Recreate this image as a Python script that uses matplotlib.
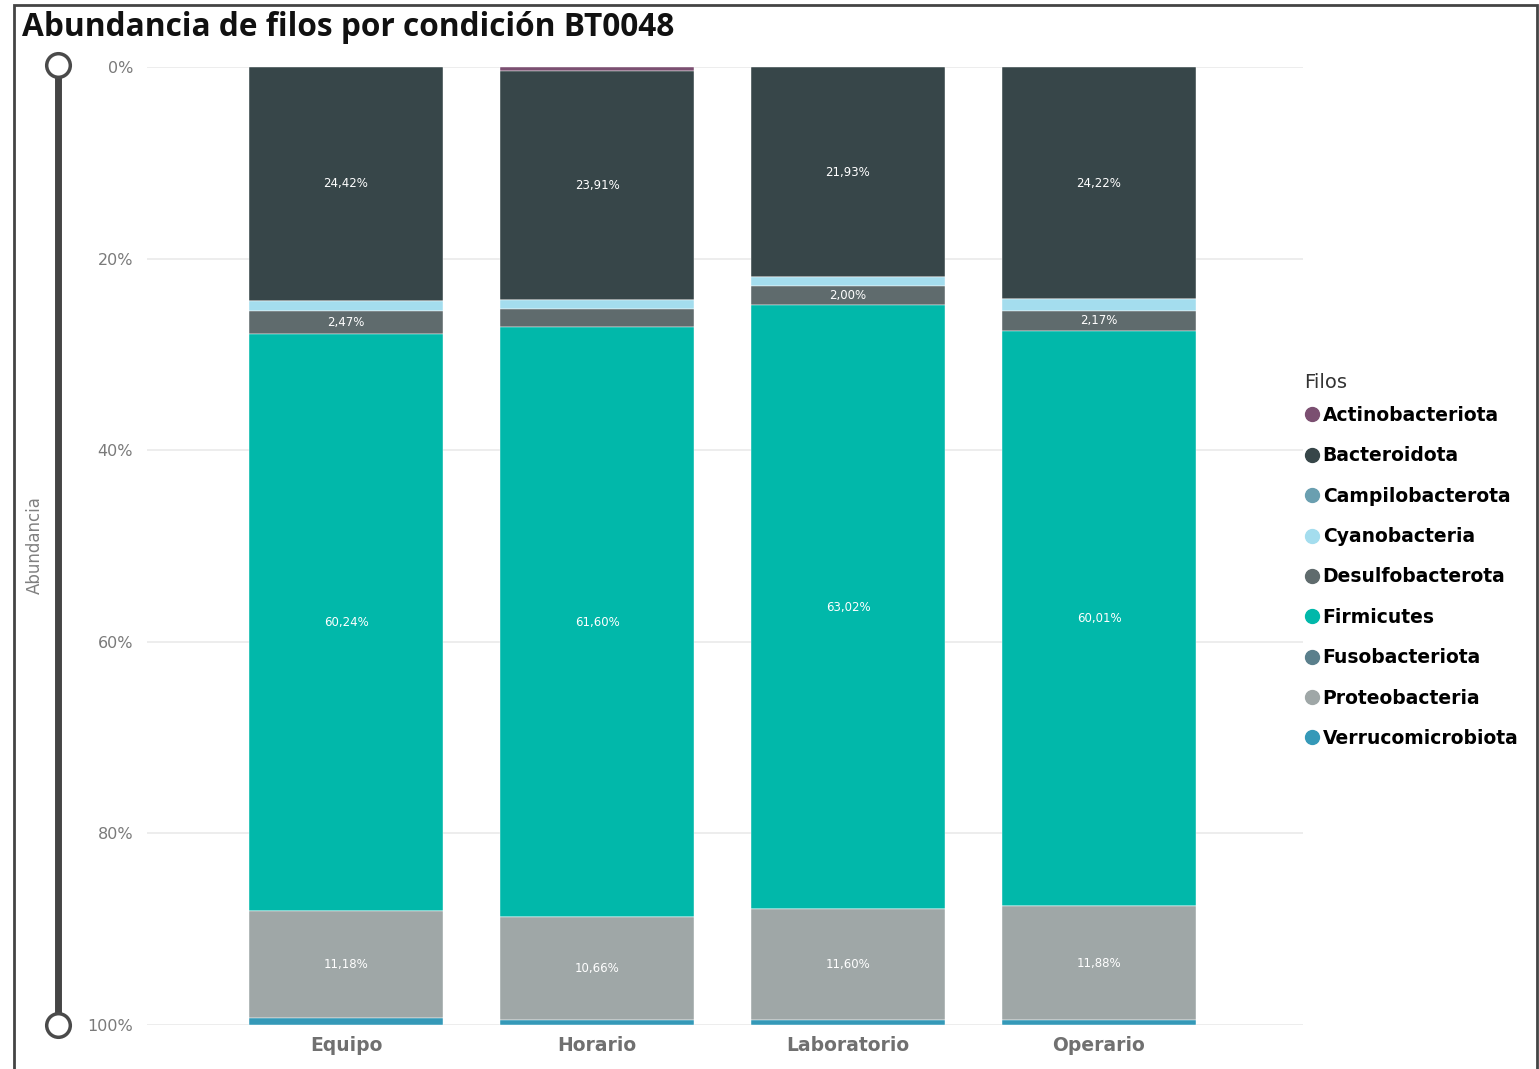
import matplotlib
matplotlib.use("Agg")
import matplotlib.pyplot as plt
from matplotlib.lines import Line2D
from matplotlib.patches import Rectangle

categories = ["Equipo", "Horario", "Laboratorio", "Operario"]
phyla = ["Actinobacteriota", "Bacteroidota", "Campilobacterota", "Cyanobacteria",
         "Desulfobacterota", "Firmicutes", "Fusobacteriota", "Proteobacteria",
         "Verrucomicrobiota"]
actinobacteriota = [0.00, 0.40, 0.00, 0.00]
bacteroidota = [24.42, 23.91, 21.93, 24.22]
campilobacterota = [0.00, 0.00, 0.00, 0.00]
cyanobacteria = [1.00, 1.00, 0.95, 1.20]
desulfobacterota = [2.47, 1.86, 2.00, 2.17]
firmicutes = [60.24, 61.60, 63.02, 60.01]
fusobacteriota = [0.00, 0.00, 0.00, 0.00]
proteobacteria = [11.18, 10.66, 11.60, 11.88]
verrucomicrobiota = [0.69, 0.57, 0.50, 0.52]

series = [actinobacteriota, bacteroidota, campilobacterota, cyanobacteria,
          desulfobacterota, firmicutes, fusobacteriota, proteobacteria,
          verrucomicrobiota]
colors = ["#7B4F71", "#374649", "#6A9FB0", "#A4DDEE", "#5F6B6D", "#01B8AA",
          "#5A7F8C", "#9FA7A7", "#3599B8"]

W, H = 1539, 1069
fig = plt.figure(figsize=(W / 100, H / 100), dpi=100)
ax = fig.add_axes([147 / W, 1 - 1025 / H, (1303 - 147) / W, (1025 - 67) / H])

x = list(range(len(categories)))
bottom = [0.0] * len(categories)
for name, vals, col in zip(phyla, series, colors):
    ax.bar(x, vals, bottom=bottom, width=0.77, color=col, edgecolor="white",
           linewidth=0.3, zorder=3)
    for i, v in enumerate(vals):
        if v >= 1.95:
            lbl = f"{v:.2f}%".replace(".", ",")
            ax.text(i, bottom[i] + v / 2, lbl, ha="center", va="center",
                    color="white", fontsize=8.5, zorder=4,
                    family=["Liberation Sans Narrow", "DejaVu Sans"])
    bottom = [b + v for b, v in zip(bottom, vals)]

ax.set_ylim(100, 0)
ax.set_xlim(-0.793, 3.813)
ax.set_yticks([0, 20, 40, 60, 80, 100])
ax.set_yticklabels(["0%", "20%", "40%", "60%", "80%", "100%"])
ax.set_xticks(x)
ax.set_xticklabels(categories)
for lab in ax.get_xticklabels():
    lab.set_fontweight("bold")
    lab.set_color("#707070")
    lab.set_fontsize(13.5)
for lab in ax.get_yticklabels():
    lab.set_color("#7a7a7a")
    lab.set_fontsize(11.5)
ax.tick_params(axis="both", length=0)
ax.tick_params(axis="y", pad=10)
ax.tick_params(axis="x", pad=8)
ax.grid(axis="y", color="#eaeaea", linewidth=1.2, zorder=0)
for s in ax.spines.values():
    s.set_visible(False)

# y-axis title
fig.text(35 / W, 1 - 545 / H, "Abundancia", rotation=90, ha="center", va="center",
         color="#808080", fontsize=12)

# slider decoration
fig.add_artist(Line2D([58 / W, 58 / W], [1 - 75 / H, 1 - 1015 / H],
                      transform=fig.transFigure, color="#454545", linewidth=5))
for yy in (65, 1025):
    fig.add_artist(Line2D([58 / W], [1 - yy / H], transform=fig.transFigure,
                          marker="o", markersize=17, markerfacecolor="white",
                          markeredgecolor="#4a4a4a", markeredgewidth=2.5))

# title
fig.text(22 / W, 1 - 28 / H, "Abundancia de filos por condición BT0048",
         ha="left", va="center", fontsize=22.8, fontweight="bold", color="#111111",
         family=["Open Sans", "DejaVu Sans"])

# frame
fig.add_artist(Rectangle((14 / W, -0.01), (1537 - 14) / W, 1 - 5 / H + 0.01,
                         transform=fig.transFigure, fill=False,
                         edgecolor="#444444", linewidth=2))

# legend
fig.text(1304 / W, 1 - 382 / H, "Filos", ha="left", va="center",
         fontsize=14, color="#333333")
handles = [Line2D([], [], marker="o", linestyle="none", markersize=10,
                  markerfacecolor=c, markeredgecolor=c) for c in colors]
leg = fig.legend(handles, phyla, loc="upper left",
                 bbox_to_anchor=(1303 / W, 1 - 406 / H), frameon=False,
                 handletextpad=0.05, handlelength=1.0, labelspacing=1.14,
                 borderaxespad=0, borderpad=0,
                 prop={"weight": "bold", "size": 13.5})

fig.savefig("out.png", dpi=100)
